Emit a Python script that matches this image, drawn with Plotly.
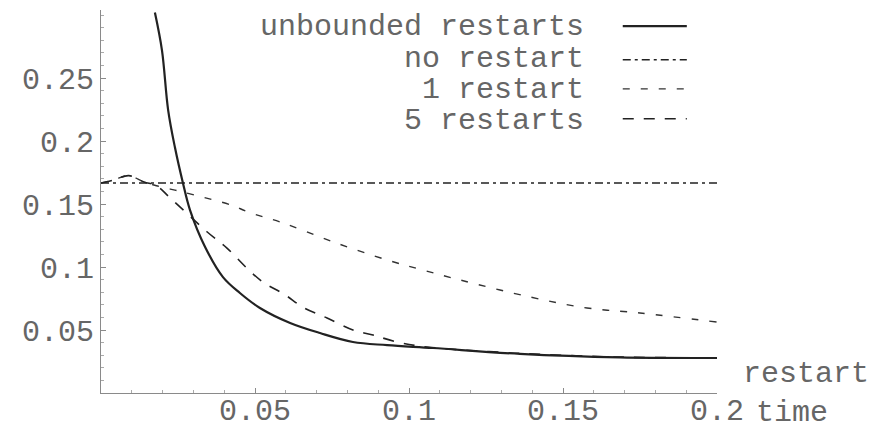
import plotly.graph_objects as go

# ---- data ----
unb_t = [0.0175, 0.0198, 0.0218, 0.0240, 0.0266, 0.0289, 0.0338, 0.0396, 0.0451, 0.0516,
         0.0614, 0.0711, 0.0818, 0.0929, 0.1078, 0.1360, 0.1685, 0.2000]
unb_v = [0.302, 0.272, 0.2246, 0.195, 0.1667, 0.1452, 0.1159, 0.092, 0.0794, 0.0675,
         0.0556, 0.0476, 0.0405, 0.038, 0.0357, 0.031, 0.0282, 0.0278]

nor_t = [0.0, 0.2]
nor_v = [0.1667, 0.1667]

one_t = [0.0, 0.004, 0.009, 0.014, 0.018, 0.024, 0.0305, 0.0425, 0.0477, 0.0591, 0.0753,
         0.0929, 0.1045, 0.1166, 0.1393, 0.1578, 0.1750, 0.2000]
one_v = [0.1667, 0.169, 0.1725, 0.1675, 0.1645, 0.161, 0.157, 0.149, 0.1437, 0.135, 0.12,
         0.1056, 0.0976, 0.0897, 0.0762, 0.0675, 0.0635, 0.0563]

five_t = [0.0, 0.004, 0.009, 0.014, 0.018, 0.0224, 0.0344, 0.0409, 0.0474, 0.0526, 0.0597,
          0.0656, 0.0734, 0.0818, 0.0883, 0.0961, 0.1058, 0.1360, 0.1685, 0.2000]
five_v = [0.1667, 0.169, 0.1725, 0.1675, 0.1645, 0.155, 0.128, 0.115, 0.099, 0.088, 0.078,
          0.068, 0.0595, 0.05, 0.046, 0.0405, 0.0365, 0.0315, 0.0285, 0.028]

series_names = ["unbounded restarts", "no restart", "1 restart", "5 restarts"]
x_ticks = [0.05, 0.1, 0.15, 0.2]
x_ticklabels = ["0.05", "0.1", "0.15", "0.2"]
y_ticks = [0.05, 0.1, 0.15, 0.2, 0.25]
y_ticklabels = ["0.05", "0.1", "0.15", "0.2", "0.25"]

FONT = "Liberation Mono, DejaVu Sans Mono, monospace"
TXT = "#666666"
LINE = "#222222"
AX = "#8a8a8a"
FS = 30

styles = [
    dict(color=LINE, width=2.2, dash="solid"),
    dict(color=LINE, width=1.6, dash="8px,4px,3px,4px"),
    dict(color="#333333", width=1.4, dash="7px,11px"),
    dict(color=LINE, width=1.6, dash="11px,10px"),
]

fig = go.Figure()
for (t, v), name, st in zip([(unb_t, unb_v), (nor_t, nor_v), (one_t, one_v), (five_t, five_v)],
                            series_names, styles):
    fig.add_trace(go.Scatter(x=t, y=v, mode="lines", name=name, line=st,
                             line_shape="spline", showlegend=False))

# manual legend: right-aligned text, line sample to the right
leg_y_txt = [0.955, 0.872, 0.791, 0.710]
leg_y_line = [0.958, 0.870, 0.794, 0.716]
for name, st, yt, yl in zip(series_names, styles, leg_y_txt, leg_y_line):
    fig.add_annotation(text=name, x=0.786, y=yt, xref="paper", yref="paper",
                       xanchor="right", yanchor="middle", showarrow=False, borderpad=0,
                       font=dict(family=FONT, size=FS, color=TXT))
    fig.add_shape(type="line", xref="paper", yref="paper", x0=0.847, x1=0.951, y0=yl, y1=yl,
                  line=st)

fig.add_annotation(text="restart", x=1.04, y=0.05, xref="paper", yref="paper",
                   xanchor="left", yanchor="middle", showarrow=False, borderpad=0,
                   font=dict(family=FONT, size=FS, color=TXT))
fig.add_annotation(text="time", x=1.062, y=-0.053, xref="paper", yref="paper",
                   xanchor="left", yanchor="middle", showarrow=False, borderpad=0,
                   font=dict(family=FONT, size=FS, color=TXT))

axis_common = dict(showgrid=False, zeroline=False, showline=True, linecolor=AX, linewidth=1,
                   ticks="inside", ticklen=5, tickcolor=AX, tickwidth=1, automargin=False,
                   tickfont=dict(family=FONT, size=FS, color=TXT),
                   minor=dict(ticks="inside", ticklen=3, dtick=0.01, tickcolor="#aaaaaa",
                              tick0=0, showgrid=False))

fig.update_xaxes(range=[0, 0.2], tickvals=x_ticks, ticktext=x_ticklabels,
                 ticklabelstandoff=-10, **axis_common)
fig.update_yaxes(range=[0, 0.304], tickvals=y_ticks, ticktext=y_ticklabels,
                 ticklabelstandoff=0, **axis_common)

fig.update_layout(width=869, height=430, margin=dict(l=101, r=152, t=10, b=37),
                  paper_bgcolor="white", plot_bgcolor="white")

fig.write_html("out.html")
